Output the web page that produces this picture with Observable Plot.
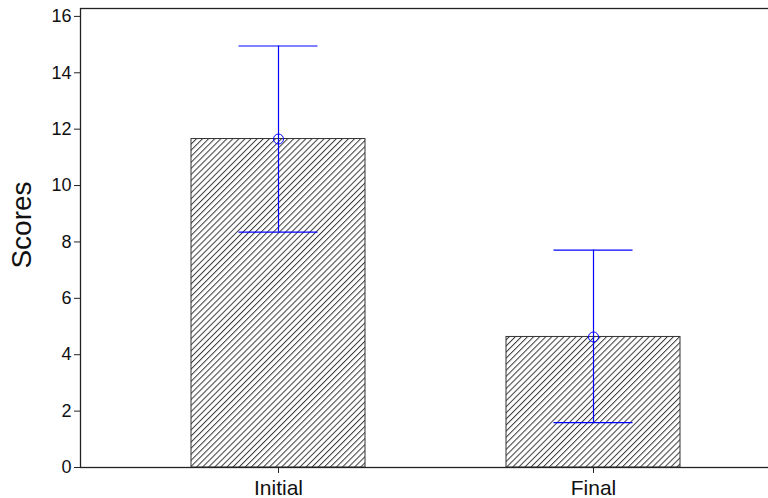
<!DOCTYPE html>
<html>
<head>
<meta charset="utf-8">
<script src="https://cdn.jsdelivr.net/npm/d3@7"></script>
<script src="https://cdn.jsdelivr.net/npm/@observablehq/plot@0.6"></script>
<style>
  html, body { margin: 0; padding: 0; background: #fff; }
  #chart svg { display: block; }
</style>
</head>
<body>
<div id="chart"></div>
<script>
const categories = ["Initial", "Final"];
const means = [11.65, 4.63];
const upper = [14.95, 7.71];
const lower = [8.35, 1.59];
const yTicks = [0, 2, 4, 6, 8, 10, 12, 14, 16];

const data = categories.map((c, i) => ({cat: c, mean: means[i], hi: upper[i], lo: lower[i]}));

const hatchDefs = () => {
  const ns = "http://www.w3.org/2000/svg";
  const defs = document.createElementNS(ns, "defs");
  const pat = document.createElementNS(ns, "pattern");
  pat.setAttribute("id", "hatch");
  pat.setAttribute("patternUnits", "userSpaceOnUse");
  pat.setAttribute("width", "4.3");
  pat.setAttribute("height", "4.3");
  pat.setAttribute("patternTransform", "rotate(45)");
  const bg = document.createElementNS(ns, "rect");
  bg.setAttribute("width", "4.3"); bg.setAttribute("height", "4.3"); bg.setAttribute("fill", "#fff");
  const ln = document.createElementNS(ns, "line");
  ln.setAttribute("x1", "0.5"); ln.setAttribute("y1", "0");
  ln.setAttribute("x2", "0.5"); ln.setAttribute("y2", "4.3");
  ln.setAttribute("stroke", "#3a3a3a"); ln.setAttribute("stroke-width", "1");
  pat.appendChild(bg); pat.appendChild(ln);
  defs.appendChild(pat);
  return defs;
};

const chart = Plot.plot({
  width: 768,
  height: 498,
  marginLeft: 80,
  marginRight: -23,
  marginTop: 8,
  marginBottom: 31,
  style: {fontFamily: "'Liberation Sans', Arial, sans-serif", background: "#fff"},
  x: {domain: categories, paddingInner: 0.4476, paddingOuter: 0.352, label: null},
  y: {domain: [0, 16.28], label: null},
  marks: [
    hatchDefs,
    Plot.barY(data, {x: "cat", y: "mean", fill: "url(#hatch)", stroke: "#333", strokeWidth: 1}),
    Plot.ruleX(data, {x: "cat", y1: "lo", y2: "hi", stroke: "#0000ff", strokeWidth: 1.2}),
    Plot.tickY(data, {x: "cat", y: "hi", stroke: "#0000ff", strokeWidth: 1.2, insetLeft: 47.5, insetRight: 47.5}),
    Plot.tickY(data, {x: "cat", y: "lo", stroke: "#0000ff", strokeWidth: 1.2, insetLeft: 47.5, insetRight: 47.5}),
    Plot.dot(data, {x: "cat", y: "mean", r: 5, stroke: "#0000ff", fill: "none", strokeWidth: 1}),
    Plot.frame({stroke: "#222", strokeWidth: 1.3}),
    Plot.axisY({ticks: yTicks, tickSize: 6, tickPadding: 3, fontSize: 18, label: null, stroke: "#222", fill: "#111"}),
    Plot.axisX({tickSize: 6, tickPadding: 7, fontSize: 21, label: null, stroke: "#222", fill: "#111"}),
    Plot.text(["Scores"], {frameAnchor: "left", textAnchor: "middle", dx: -58, dy: -13, rotate: -90, fontSize: 28, fill: "#111"})
  ]
});
document.getElementById("chart").appendChild(chart);
</script>
</body>
</html>
